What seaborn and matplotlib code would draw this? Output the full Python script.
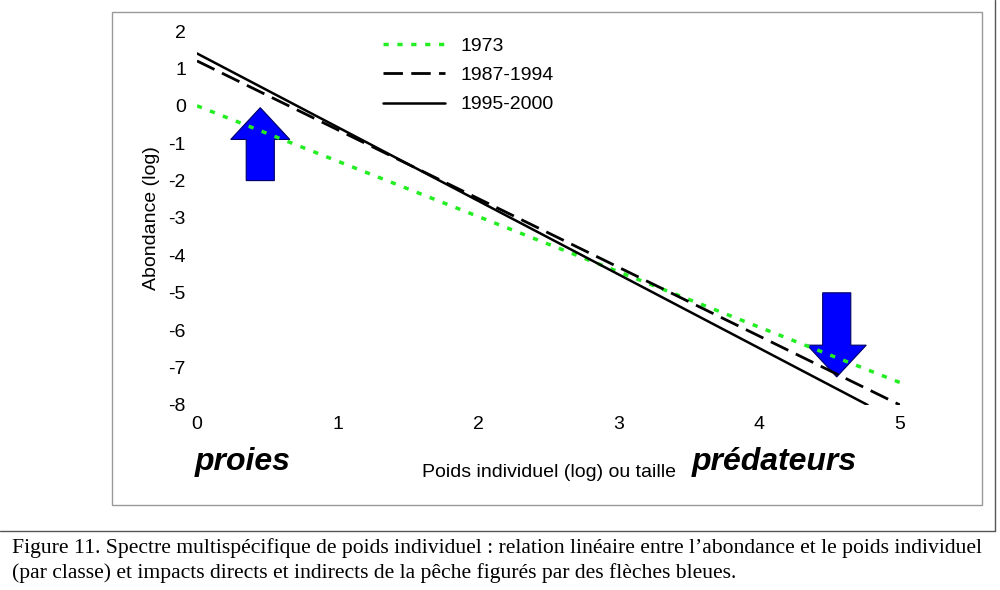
import matplotlib
matplotlib.use("Agg")
import matplotlib.pyplot as plt
import seaborn as sns
import numpy as np
import pandas as pd
from matplotlib.patches import Rectangle, FancyArrow

sns.set_theme(style="white")
plt.rcParams['font.family'] = ['Liberation Sans', 'DejaVu Sans']
plt.rcParams['axes.unicode_minus'] = False
plt.rcParams['text.color'] = 'black'
plt.rcParams['axes.labelcolor'] = 'black'
plt.rcParams['xtick.color'] = 'black'
plt.rcParams['ytick.color'] = 'black'

series = ["1973", "1987-1994", "1995-2000"]
x_start = [0.0, 0.0, 0.0]
y_start = [0.0, 1.2, 1.4]
x_end = [5.0, 5.0, 4.77]
y_end = [-7.4, -8.0, -8.0]
xticks = [0, 1, 2, 3, 4, 5]
yticks = [2, 1, 0, -1, -2, -3, -4, -5, -6, -7, -8]

rows = []
for s, x0, y0, x1, y1 in zip(series, x_start, y_start, x_end, y_end):
    rows += [dict(serie=s, x=x0, y=y0), dict(serie=s, x=x1, y=y1)]
df = pd.DataFrame(rows)

fig = plt.figure(figsize=(10, 5.9), dpi=100)
fig.patches.append(Rectangle((0.112, 1-505/590), 0.870, (505-12)/590, transform=fig.transFigure,
                             fill=False, edgecolor="#999999", lw=1))
fig.add_artist(plt.Line2D([0, 0.995], [1-531/590]*2, color="#555555", lw=1, transform=fig.transFigure))
fig.add_artist(plt.Line2D([0.995, 0.995], [1-531/590, 1], color="#555555", lw=1, transform=fig.transFigure))
ax = fig.add_axes([0.197, 1-405/590, 0.703, (405-31)/590])

styles = {"1973": dict(color="#22ee22", ls=(0, (1.5, 2.5)), lw=2.5),
          "1987-1994": dict(color="black", ls=(0, (7, 3)), lw=2),
          "1995-2000": dict(color="black", ls="-", lw=1.8)}
for s in series:
    d = df[df.serie == s]
    sns.lineplot(data=d, x="x", y="y", ax=ax, label=s, **styles[s])

ax.add_patch(FancyArrow(0.45, -2.0, 0, 1.1, width=0.2, head_width=0.42, head_length=0.85,
                        length_includes_head=False, color="#0000ff", ec="#000066", lw=0.8))
ax.add_patch(FancyArrow(4.55, -5.0, 0, -1.4, width=0.2, head_width=0.42, head_length=0.85,
                        color="#0000ff", ec="#000066", lw=0.8))

ax.set_xlim(0, 5)
ax.set_ylim(-8, 2)
ax.set_xticks(xticks)
ax.set_yticks(yticks)
ax.set_yticklabels([str(v) for v in yticks])
ax.tick_params(labelsize=14, length=0, pad=8)
for sp in ax.spines.values():
    sp.set_visible(False)
ax.set_xlabel("Poids individuel (log) ou taille", fontsize=14, labelpad=22)
ax.set_ylabel("Abondance (log)", fontsize=14, labelpad=6)
leg = ax.legend(loc="upper left", bbox_to_anchor=(0.24, 1.03), frameon=False, fontsize=14,
                handlelength=3.2, labelspacing=0.6)
fig.text(0.195, 1-462/590, "proies", fontsize=23, fontweight="bold", style="italic", va="center")
fig.text(0.692, 1-462/590, "prédateurs", fontsize=23, fontweight="bold", style="italic", va="center")
fig.text(0.012, 1-548/590, "Figure 11. Spectre multispécifique de poids individuel : relation linéaire entre l’abondance et le poids individuel",
         fontsize=15.6, family=["Liberation Serif"], va="center")
fig.text(0.012, 1-573/590, "(par classe) et impacts directs et indirects de la pêche figurés par des flèches bleues.",
         fontsize=15.6, family=["Liberation Serif"], va="center")
fig.savefig("out.png", dpi=100)
